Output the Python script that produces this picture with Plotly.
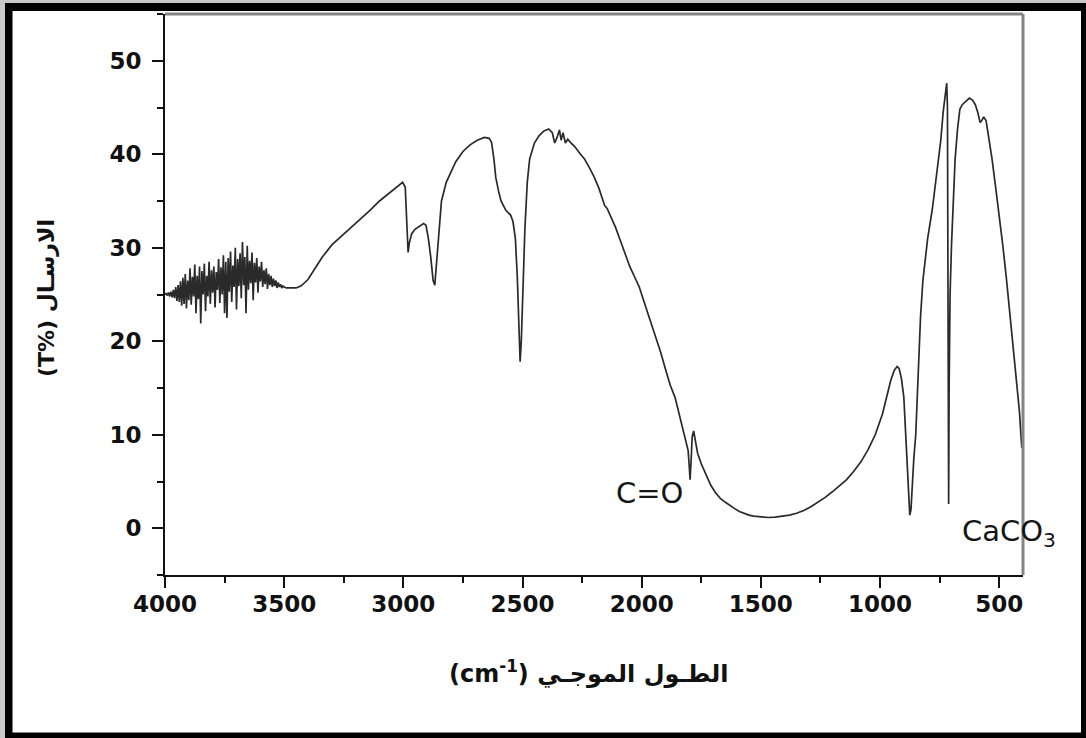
import plotly.graph_objects as go

# ---------------- data ----------------
# noisy O-H region
wn_noise = [4000, 3995, 3990, 3985, 3980, 3975, 3970, 3965, 3960, 3955,
            3950, 3945, 3940, 3935, 3930, 3925, 3920, 3915, 3910, 3905,
            3900, 3895, 3890, 3885, 3880, 3875, 3870, 3865, 3860, 3855,
            3850, 3845, 3840, 3835, 3830, 3825, 3820, 3815, 3810, 3805,
            3800, 3795, 3790, 3785, 3780, 3775, 3770, 3765, 3760, 3755,
            3750, 3745, 3740, 3735, 3730, 3725, 3720, 3715, 3710, 3705,
            3700, 3695, 3690, 3685, 3680, 3675, 3670, 3665, 3660, 3655,
            3650, 3645, 3640, 3635, 3630, 3625, 3620, 3615, 3610, 3605,
            3600, 3595, 3590, 3585, 3580, 3575, 3570, 3565, 3560, 3555,
            3550, 3545, 3540, 3535, 3530, 3525, 3520, 3515, 3510, 3505,
            3500]
t_noise = [25.0, 25.1, 24.9, 25.2, 24.8, 25.3, 24.7, 25.5, 24.6, 25.8,
           24.3, 26.0, 24.2, 26.4, 23.8, 26.8, 24.0, 27.2, 23.5, 26.5,
           24.4, 27.8, 23.9, 26.9, 24.8, 28.2, 23.0, 27.0, 24.5, 28.0,
           21.9, 27.5, 25.0, 28.3, 23.2, 27.0, 24.8, 28.5, 24.0, 27.6,
           25.2, 28.0, 23.6, 27.4, 25.5, 28.8, 24.1, 27.9, 25.0, 29.2,
           23.0, 28.5, 22.5, 28.9, 25.3, 29.6, 24.2, 28.1, 25.8, 30.0,
           23.4, 28.8, 25.9, 29.4, 24.6, 30.6, 26.0, 29.0, 23.0, 30.2,
           25.5, 28.6, 26.2, 29.5, 24.4, 28.4, 26.3, 28.9, 25.2, 28.0,
           26.4, 28.5, 25.8, 27.6, 26.1, 27.8, 25.6, 27.2, 26.0, 27.0,
           25.8, 26.7, 25.9, 26.5, 25.7, 26.3, 25.8, 26.1, 25.7, 25.9,
           25.8]

# 3490 - 2010 cm-1
wn_mid = [3490, 3470, 3450, 3430, 3400, 3370, 3340, 3300, 3260, 3220,
          3180, 3140, 3100, 3060, 3030, 3010, 3003, 2992, 2985, 2980,
          2975, 2965, 2950, 2930, 2915, 2905, 2895, 2885, 2875, 2868,
          2860, 2850, 2840, 2820, 2800, 2780, 2750, 2720, 2690, 2660,
          2640, 2630, 2620, 2612, 2600, 2590, 2570, 2550, 2540, 2530,
          2522, 2515, 2510, 2505, 2500, 2490, 2480, 2470, 2450, 2430,
          2410, 2390, 2375, 2365, 2355, 2345, 2338, 2330, 2320, 2310,
          2300, 2280, 2260, 2240, 2220, 2200, 2180, 2165, 2155, 2145,
          2130, 2110, 2090, 2070, 2050, 2030, 2010]
t_mid = [25.7, 25.7, 25.7, 25.9, 26.6, 27.8, 29.0, 30.3, 31.2, 32.1,
         33.0, 34.0, 35.0, 35.8, 36.5, 36.9, 37.0, 36.5, 33.0, 29.5,
         30.5, 31.5, 32.0, 32.3, 32.6, 32.4, 31.0, 29.0, 26.5, 26.0,
         28.5, 32.5, 35.0, 37.0, 38.2, 39.2, 40.3, 41.0, 41.5, 41.8,
         41.7, 41.3, 39.5, 37.5, 36.0, 35.0, 34.0, 33.5, 32.8, 31.0,
         27.0, 20.5, 17.8, 20.0, 25.0, 32.0, 37.0, 39.5, 41.2, 42.0,
         42.5, 42.7, 42.3, 41.2, 41.8, 42.6, 41.5, 42.3, 41.2, 41.6,
         41.3, 40.8, 40.1, 39.5, 38.6, 37.6, 36.4, 35.2, 34.5, 34.2,
         33.4, 32.2, 30.8, 29.4, 28.0, 26.9, 25.8]

# 2000 - 405 cm-1
wn_low = [2000, 1980, 1960, 1940, 1920, 1900, 1880, 1860, 1845, 1830,
          1815, 1805, 1800, 1797, 1793, 1788, 1782, 1775, 1765, 1750,
          1730, 1710, 1690, 1670, 1650, 1630, 1610, 1590, 1570, 1550,
          1530, 1500, 1470, 1440, 1410, 1380, 1350, 1320, 1290, 1260,
          1230, 1200, 1170, 1140, 1110, 1080, 1050, 1020, 990, 970,
          955, 940, 928, 920, 910, 900, 893, 887, 880, 875,
          870, 865, 858, 850, 848, 845, 840, 835, 830, 820,
          800, 780, 760, 745, 735, 725, 720, 717, 714, 712,
          710, 706, 700, 695, 690, 685, 675, 665, 655, 640,
          625, 612, 600, 590, 580, 573, 565, 555, 545, 530,
          515, 500, 485, 470, 455, 440, 425, 415, 410, 405]
t_low = [25.0, 23.5, 22.0, 20.5, 18.8, 17.0, 15.3, 14.0, 12.5, 11.0,
         9.5, 8.3, 6.5, 5.2, 7.0, 9.8, 10.4, 9.2, 8.0, 6.9,
         5.7, 4.6, 3.8, 3.2, 2.8, 2.4, 2.1, 1.8, 1.6, 1.4,
         1.3, 1.2, 1.15, 1.2, 1.3, 1.4, 1.6, 1.9, 2.3, 2.8,
         3.3, 3.9, 4.6, 5.2, 6.1, 7.1, 8.4, 10.0, 12.2, 14.2,
         15.8, 16.9, 17.3, 17.1, 16.0, 14.0, 10.5, 6.0, 2.5, 1.4,
         2.0, 4.5, 7.5, 10.0, 11.5, 12.5, 16.5, 20.0, 22.6, 26.5,
         31.0, 34.2, 38.5, 41.5, 44.5, 47.0, 47.6, 45.0, 20.0, 2.6,
         15.0, 25.0, 30.3, 34.0, 37.2, 39.4, 42.6, 44.8, 45.3, 45.7,
         46.0, 45.8, 45.3, 44.5, 43.4, 43.6, 44.0, 43.6, 42.0, 39.5,
         36.5, 33.5, 30.3, 26.8, 23.0, 18.9, 15.0, 12.5, 10.5, 8.6]

x_tick_vals = [4000, 3500, 3000, 2500, 2000, 1500, 1000, 500]
y_tick_vals = [0, 10, 20, 30, 40, 50]

x_title = "(cm<sup>-1</sup>) الطـول الموجـي"
y_title = "(T%) الارسـال"
label_co = "C=O"
label_caco3 = "CaCO<sub>3</sub>"

# ---------------- layout geometry ----------------
W, H = 1086, 738
L, R, T, B = 165, 1023, 14, 575
PW, PH = R - L, B - T


def px(xp):
    return (xp - L) / PW


def py(yp):
    return (B - yp) / PH


wn = wn_noise + wn_mid + wn_low
tr = t_noise + t_mid + t_low

fig = go.Figure()
fig.add_trace(go.Scatter(x=wn, y=tr, mode="lines",
                         line=dict(color="#2a2a2a", width=1.7),
                         showlegend=False, hoverinfo="skip"))

tick_font = dict(family="DejaVu Sans", size=23, color="#111111", weight="bold")

fig.update_xaxes(range=[4000, 400], tickvals=x_tick_vals,
                 ticks="outside", ticklen=11, tickwidth=2, tickcolor="#111",
                 showline=True, linecolor="#111", linewidth=2,
                 showgrid=False, zeroline=False, tickfont=tick_font,
                 ticklabelstandoff=-4,
                 minor=dict(ticks="outside", ticklen=6, tickwidth=2,
                            tickcolor="#111", dtick=250, tick0=0, showgrid=False))
fig.update_yaxes(range=[-5, 55], tickvals=y_tick_vals,
                 ticks="outside", ticklen=11, tickwidth=2, tickcolor="#111",
                 showline=True, linecolor="#111", linewidth=2,
                 showgrid=False, zeroline=False, tickfont=tick_font,
                 ticklabelstandoff=6,
                 minor=dict(ticks="outside", ticklen=6, tickwidth=2,
                            tickcolor="#111", dtick=5, tick0=0, showgrid=False))

shapes = []
# grey outer strips
shapes.append(dict(type="rect", xref="paper", yref="paper", layer="below",
                   x0=px(0), x1=px(W), y0=py(0), y1=py(3),
                   fillcolor="#c9c9c9", line=dict(width=0)))
shapes.append(dict(type="rect", xref="paper", yref="paper", layer="below",
                   x0=px(0), x1=px(5), y0=py(0), y1=py(H),
                   fillcolor="#c9c9c9", line=dict(width=0)))
# black frame
for (x0, x1, y0, y1) in [(5, W, 3, 11), (5, 12.5, 3, H), (5, W, 732.5, H), (1081, W, 3, H)]:
    shapes.append(dict(type="rect", xref="paper", yref="paper",
                       x0=px(x0), x1=px(x1), y0=py(y0), y1=py(y1),
                       fillcolor="#000000", line=dict(width=0)))
# grey top and right box lines
shapes.append(dict(type="line", xref="paper", yref="paper",
                   x0=0, x1=1, y0=1, y1=1, line=dict(color="#858585", width=3)))
shapes.append(dict(type="line", xref="paper", yref="paper",
                   x0=1, x1=1, y0=0, y1=1, line=dict(color="#858585", width=3)))

annotations = [
    dict(text=y_title, xref="paper", yref="paper", x=px(46), y=py(298),
         textangle=-90, showarrow=False, xanchor="center", yanchor="middle",
         font=dict(family="DejaVu Sans", size=22, color="#111", weight="bold")),
    dict(text=x_title, xref="paper", yref="paper", x=px(588), y=py(672),
         showarrow=False, xanchor="center", yanchor="middle",
         font=dict(family="DejaVu Sans", size=24, color="#111", weight="bold")),
    dict(text=label_co, xref="paper", yref="paper", x=px(649), y=py(493),
         showarrow=False, xanchor="center", yanchor="middle",
         font=dict(family="DejaVu Sans", size=29, color="#151515")),
    dict(text=label_caco3, xref="paper", yref="paper", x=px(960), y=py(533),
         showarrow=False, xanchor="left", yanchor="middle",
         font=dict(family="DejaVu Sans", size=29, color="#151515")),
]

fig.update_layout(width=W, height=H,
                  margin=dict(l=L, r=W - R, t=T, b=H - B, pad=0),
                  paper_bgcolor="white", plot_bgcolor="white",
                  shapes=shapes, annotations=annotations,
                  showlegend=False)

fig.write_html("out.html")
